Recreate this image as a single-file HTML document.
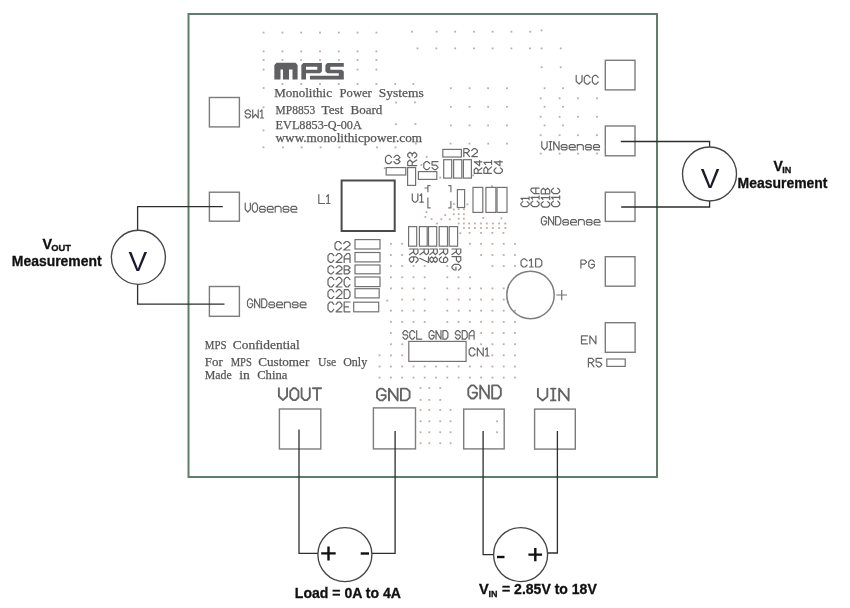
<!DOCTYPE html>
<html><head><meta charset="utf-8"><title>MP8853 EVB</title>
<style>html,body{margin:0;padding:0;background:#fff;width:850px;height:608px;overflow:hidden}svg{display:block;will-change:transform}</style>
</head><body>
<svg width="850" height="608" viewBox="0 0 850 608">
<rect x="0" y="0" width="850" height="608" fill="#fff"/>
<g fill="#bfaba3"><rect x="262.7" y="31.7" width="1.8" height="1.8"/><rect x="281.5" y="31.7" width="1.8" height="1.8"/><rect x="300.3" y="31.7" width="1.8" height="1.8"/><rect x="319.1" y="31.7" width="1.8" height="1.8"/><rect x="337.9" y="31.7" width="1.8" height="1.8"/><rect x="356.7" y="31.7" width="1.8" height="1.8"/><rect x="375.5" y="31.7" width="1.8" height="1.8"/><rect x="411.0" y="30.8" width="1.8" height="1.8"/><rect x="435.8" y="30.8" width="1.8" height="1.8"/><rect x="454.3" y="30.8" width="1.8" height="1.8"/><rect x="473.1" y="30.8" width="1.8" height="1.8"/><rect x="491.7" y="30.8" width="1.8" height="1.8"/><rect x="510.5" y="30.8" width="1.8" height="1.8"/><rect x="529.3" y="30.8" width="1.8" height="1.8"/><rect x="540.7" y="29.5" width="1.8" height="1.8"/><rect x="262.7" y="50.5" width="1.8" height="1.8"/><rect x="281.5" y="50.5" width="1.8" height="1.8"/><rect x="300.3" y="50.5" width="1.8" height="1.8"/><rect x="319.1" y="50.5" width="1.8" height="1.8"/><rect x="337.9" y="50.5" width="1.8" height="1.8"/><rect x="356.7" y="50.5" width="1.8" height="1.8"/><rect x="375.5" y="50.5" width="1.8" height="1.8"/><rect x="416.6" y="47.5" width="1.8" height="1.8"/><rect x="435.4" y="47.5" width="1.8" height="1.8"/><rect x="454.3" y="47.5" width="1.8" height="1.8"/><rect x="473.1" y="47.5" width="1.8" height="1.8"/><rect x="491.7" y="47.5" width="1.8" height="1.8"/><rect x="510.5" y="47.5" width="1.8" height="1.8"/><rect x="529.0" y="47.5" width="1.8" height="1.8"/><rect x="540.7" y="47.5" width="1.8" height="1.8"/><rect x="559.8" y="47.5" width="1.8" height="1.8"/><rect x="262.7" y="59.1" width="1.8" height="1.8"/><rect x="281.5" y="59.1" width="1.8" height="1.8"/><rect x="300.3" y="59.1" width="1.8" height="1.8"/><rect x="319.1" y="59.1" width="1.8" height="1.8"/><rect x="337.9" y="59.1" width="1.8" height="1.8"/><rect x="356.7" y="59.1" width="1.8" height="1.8"/><rect x="375.5" y="59.1" width="1.8" height="1.8"/><rect x="262.7" y="68.7" width="1.8" height="1.8"/><rect x="356.7" y="68.7" width="1.8" height="1.8"/><rect x="375.5" y="68.7" width="1.8" height="1.8"/><rect x="281.5" y="83.1" width="1.8" height="1.8"/><rect x="300.3" y="83.1" width="1.8" height="1.8"/><rect x="319.1" y="83.1" width="1.8" height="1.8"/><rect x="337.9" y="83.1" width="1.8" height="1.8"/><rect x="356.7" y="83.1" width="1.8" height="1.8"/><rect x="375.5" y="83.1" width="1.8" height="1.8"/><rect x="394.3" y="83.1" width="1.8" height="1.8"/><rect x="412.5" y="83.1" width="1.8" height="1.8"/><rect x="262.7" y="87.1" width="1.8" height="1.8"/><rect x="262.6" y="106.4" width="1.8" height="1.8"/><rect x="262.6" y="129.5" width="1.8" height="1.8"/><rect x="262.6" y="146.5" width="1.8" height="1.8"/><rect x="282.1" y="146.5" width="1.8" height="1.8"/><rect x="300.8" y="146.5" width="1.8" height="1.8"/><rect x="319.7" y="146.5" width="1.8" height="1.8"/><rect x="338.5" y="146.5" width="1.8" height="1.8"/><rect x="376.1" y="146.5" width="1.8" height="1.8"/><rect x="394.6" y="146.5" width="1.8" height="1.8"/><rect x="414.9" y="142.7" width="1.8" height="1.8"/><rect x="449.7" y="142.7" width="1.8" height="1.8"/><rect x="468.5" y="142.7" width="1.8" height="1.8"/><rect x="487.3" y="142.7" width="1.8" height="1.8"/><rect x="506.1" y="142.7" width="1.8" height="1.8"/><rect x="395.3" y="101.7" width="1.8" height="1.8"/><rect x="395.0" y="123.3" width="1.8" height="1.8"/><rect x="414.1" y="101.5" width="1.8" height="1.8"/><rect x="414.5" y="123.1" width="1.8" height="1.8"/><rect x="449.9" y="87.3" width="1.8" height="1.8"/><rect x="468.7" y="87.3" width="1.8" height="1.8"/><rect x="487.2" y="87.3" width="1.8" height="1.8"/><rect x="506.0" y="87.3" width="1.8" height="1.8"/><rect x="543.7" y="87.3" width="1.8" height="1.8"/><rect x="562.1" y="87.3" width="1.8" height="1.8"/><rect x="449.9" y="105.9" width="1.8" height="1.8"/><rect x="468.7" y="105.9" width="1.8" height="1.8"/><rect x="487.2" y="105.9" width="1.8" height="1.8"/><rect x="506.0" y="105.9" width="1.8" height="1.8"/><rect x="543.7" y="105.9" width="1.8" height="1.8"/><rect x="562.1" y="105.9" width="1.8" height="1.8"/><rect x="449.9" y="124.5" width="1.8" height="1.8"/><rect x="468.7" y="124.5" width="1.8" height="1.8"/><rect x="487.2" y="124.5" width="1.8" height="1.8"/><rect x="506.0" y="124.5" width="1.8" height="1.8"/><rect x="543.7" y="124.5" width="1.8" height="1.8"/><rect x="562.1" y="124.5" width="1.8" height="1.8"/><rect x="540.7" y="66.3" width="1.8" height="1.8"/><rect x="559.8" y="66.3" width="1.8" height="1.8"/><rect x="539.8" y="97.4" width="1.8" height="1.8"/><rect x="558.7" y="97.4" width="1.8" height="1.8"/><rect x="577.1" y="97.4" width="1.8" height="1.8"/><rect x="596.0" y="97.4" width="1.8" height="1.8"/><rect x="539.8" y="115.9" width="1.8" height="1.8"/><rect x="558.7" y="115.9" width="1.8" height="1.8"/><rect x="577.1" y="115.9" width="1.8" height="1.8"/><rect x="596.0" y="115.9" width="1.8" height="1.8"/><rect x="539.8" y="134.3" width="1.8" height="1.8"/><rect x="558.7" y="134.3" width="1.8" height="1.8"/><rect x="577.1" y="134.3" width="1.8" height="1.8"/><rect x="596.0" y="134.3" width="1.8" height="1.8"/><rect x="539.8" y="152.7" width="1.8" height="1.8"/><rect x="558.7" y="152.7" width="1.8" height="1.8"/><rect x="577.1" y="152.7" width="1.8" height="1.8"/><rect x="596.0" y="152.7" width="1.8" height="1.8"/><rect x="383.8" y="167.3" width="1.8" height="1.8"/><rect x="425.8" y="156.1" width="1.8" height="1.8"/><rect x="420.5" y="164.1" width="1.8" height="1.8"/><rect x="439.3" y="176.7" width="1.8" height="1.8"/><rect x="472.3" y="174.5" width="1.8" height="1.8"/><rect x="491.1" y="185.2" width="1.8" height="1.8"/><rect x="452.9" y="203.2" width="1.8" height="1.8"/><rect x="466.5" y="203.4" width="1.8" height="1.8"/><rect x="452.9" y="208.6" width="1.8" height="1.8"/><rect x="457.8" y="208.3" width="1.8" height="1.8"/><rect x="463.0" y="208.3" width="1.8" height="1.8"/><rect x="425.7" y="211.2" width="1.8" height="1.8"/><rect x="452.9" y="213.3" width="1.8" height="1.8"/><rect x="457.8" y="213.3" width="1.8" height="1.8"/><rect x="463.0" y="213.3" width="1.8" height="1.8"/><rect x="444.3" y="214.2" width="1.8" height="1.8"/><rect x="424.5" y="216.1" width="1.8" height="1.8"/><rect x="430.7" y="218.0" width="1.8" height="1.8"/><rect x="440.4" y="218.3" width="1.8" height="1.8"/><rect x="448.8" y="218.4" width="1.8" height="1.8"/><rect x="457.8" y="217.8" width="1.8" height="1.8"/><rect x="463.0" y="217.8" width="1.8" height="1.8"/><rect x="482.4" y="217.1" width="1.8" height="1.8"/><rect x="500.5" y="217.4" width="1.8" height="1.8"/><rect x="436.1" y="222.6" width="1.8" height="1.8"/><rect x="459.4" y="232.3" width="1.8" height="1.8"/><rect x="457.8" y="222.6" width="1.8" height="1.8"/><rect x="463.0" y="222.6" width="1.8" height="1.8"/><rect x="468.2" y="222.6" width="1.8" height="1.8"/><rect x="474.0" y="222.6" width="1.8" height="1.8"/><rect x="480.1" y="222.6" width="1.8" height="1.8"/><rect x="485.9" y="222.6" width="1.8" height="1.8"/><rect x="492.0" y="222.6" width="1.8" height="1.8"/><rect x="498.2" y="222.6" width="1.8" height="1.8"/><rect x="504.4" y="222.6" width="1.8" height="1.8"/><rect x="463.0" y="227.1" width="1.8" height="1.8"/><rect x="468.2" y="227.1" width="1.8" height="1.8"/><rect x="474.0" y="227.1" width="1.8" height="1.8"/><rect x="480.1" y="227.1" width="1.8" height="1.8"/><rect x="485.9" y="227.1" width="1.8" height="1.8"/><rect x="492.0" y="227.1" width="1.8" height="1.8"/><rect x="498.2" y="227.1" width="1.8" height="1.8"/><rect x="504.4" y="227.1" width="1.8" height="1.8"/><rect x="468.7" y="232.0" width="1.8" height="1.8"/><rect x="480.1" y="232.0" width="1.8" height="1.8"/><rect x="491.4" y="232.0" width="1.8" height="1.8"/><rect x="502.5" y="232.0" width="1.8" height="1.8"/><rect x="390.0" y="242.9" width="1.8" height="1.8"/><rect x="401.3" y="242.9" width="1.8" height="1.8"/><rect x="469.0" y="242.9" width="1.8" height="1.8"/><rect x="480.2" y="242.9" width="1.8" height="1.8"/><rect x="491.5" y="242.9" width="1.8" height="1.8"/><rect x="502.8" y="242.9" width="1.8" height="1.8"/><rect x="514.1" y="242.9" width="1.8" height="1.8"/><rect x="390.0" y="254.1" width="1.8" height="1.8"/><rect x="401.3" y="254.1" width="1.8" height="1.8"/><rect x="480.2" y="254.1" width="1.8" height="1.8"/><rect x="491.5" y="254.1" width="1.8" height="1.8"/><rect x="502.8" y="254.1" width="1.8" height="1.8"/><rect x="514.1" y="254.1" width="1.8" height="1.8"/><rect x="390.0" y="265.2" width="1.8" height="1.8"/><rect x="401.3" y="265.2" width="1.8" height="1.8"/><rect x="412.6" y="265.2" width="1.8" height="1.8"/><rect x="423.8" y="265.2" width="1.8" height="1.8"/><rect x="446.4" y="265.2" width="1.8" height="1.8"/><rect x="491.5" y="265.2" width="1.8" height="1.8"/><rect x="502.8" y="265.2" width="1.8" height="1.8"/><rect x="514.1" y="265.2" width="1.8" height="1.8"/><rect x="390.0" y="276.4" width="1.8" height="1.8"/><rect x="401.3" y="276.4" width="1.8" height="1.8"/><rect x="412.6" y="276.4" width="1.8" height="1.8"/><rect x="423.8" y="276.4" width="1.8" height="1.8"/><rect x="446.4" y="276.4" width="1.8" height="1.8"/><rect x="457.7" y="276.4" width="1.8" height="1.8"/><rect x="469.0" y="276.4" width="1.8" height="1.8"/><rect x="390.0" y="287.5" width="1.8" height="1.8"/><rect x="401.3" y="287.5" width="1.8" height="1.8"/><rect x="412.6" y="287.5" width="1.8" height="1.8"/><rect x="423.8" y="287.5" width="1.8" height="1.8"/><rect x="446.4" y="287.5" width="1.8" height="1.8"/><rect x="457.7" y="287.5" width="1.8" height="1.8"/><rect x="469.0" y="287.5" width="1.8" height="1.8"/><rect x="480.2" y="287.5" width="1.8" height="1.8"/><rect x="491.5" y="287.5" width="1.8" height="1.8"/><rect x="502.8" y="287.5" width="1.8" height="1.8"/><rect x="401.3" y="298.7" width="1.8" height="1.8"/><rect x="412.6" y="298.7" width="1.8" height="1.8"/><rect x="423.8" y="298.7" width="1.8" height="1.8"/><rect x="446.4" y="298.7" width="1.8" height="1.8"/><rect x="457.7" y="298.7" width="1.8" height="1.8"/><rect x="469.0" y="298.7" width="1.8" height="1.8"/><rect x="480.2" y="298.7" width="1.8" height="1.8"/><rect x="491.5" y="298.7" width="1.8" height="1.8"/><rect x="502.8" y="298.7" width="1.8" height="1.8"/><rect x="390.0" y="309.8" width="1.8" height="1.8"/><rect x="401.3" y="309.8" width="1.8" height="1.8"/><rect x="412.6" y="309.8" width="1.8" height="1.8"/><rect x="423.8" y="309.8" width="1.8" height="1.8"/><rect x="446.4" y="309.8" width="1.8" height="1.8"/><rect x="457.7" y="309.8" width="1.8" height="1.8"/><rect x="469.0" y="309.8" width="1.8" height="1.8"/><rect x="480.2" y="309.8" width="1.8" height="1.8"/><rect x="491.5" y="309.8" width="1.8" height="1.8"/><rect x="502.8" y="309.8" width="1.8" height="1.8"/><rect x="514.1" y="309.8" width="1.8" height="1.8"/><rect x="390.0" y="321.0" width="1.8" height="1.8"/><rect x="401.3" y="321.0" width="1.8" height="1.8"/><rect x="412.6" y="321.0" width="1.8" height="1.8"/><rect x="423.8" y="321.0" width="1.8" height="1.8"/><rect x="446.4" y="321.0" width="1.8" height="1.8"/><rect x="457.7" y="321.0" width="1.8" height="1.8"/><rect x="469.0" y="321.0" width="1.8" height="1.8"/><rect x="480.2" y="321.0" width="1.8" height="1.8"/><rect x="491.5" y="321.0" width="1.8" height="1.8"/><rect x="502.8" y="321.0" width="1.8" height="1.8"/><rect x="514.1" y="321.0" width="1.8" height="1.8"/><rect x="390.0" y="332.1" width="1.8" height="1.8"/><rect x="480.2" y="332.1" width="1.8" height="1.8"/><rect x="491.5" y="332.1" width="1.8" height="1.8"/><rect x="502.8" y="332.1" width="1.8" height="1.8"/><rect x="514.1" y="332.1" width="1.8" height="1.8"/><rect x="390.0" y="343.3" width="1.8" height="1.8"/><rect x="401.3" y="343.3" width="1.8" height="1.8"/><rect x="480.2" y="343.3" width="1.8" height="1.8"/><rect x="491.5" y="343.3" width="1.8" height="1.8"/><rect x="502.8" y="343.3" width="1.8" height="1.8"/><rect x="514.1" y="343.3" width="1.8" height="1.8"/><rect x="378.7" y="354.4" width="1.8" height="1.8"/><rect x="390.0" y="354.4" width="1.8" height="1.8"/><rect x="401.3" y="354.4" width="1.8" height="1.8"/><rect x="491.5" y="354.4" width="1.8" height="1.8"/><rect x="502.8" y="354.4" width="1.8" height="1.8"/><rect x="514.1" y="354.4" width="1.8" height="1.8"/><rect x="378.7" y="365.6" width="1.8" height="1.8"/><rect x="390.0" y="365.6" width="1.8" height="1.8"/><rect x="401.3" y="365.6" width="1.8" height="1.8"/><rect x="412.6" y="365.6" width="1.8" height="1.8"/><rect x="423.8" y="365.6" width="1.8" height="1.8"/><rect x="435.1" y="365.6" width="1.8" height="1.8"/><rect x="446.4" y="365.6" width="1.8" height="1.8"/><rect x="457.7" y="365.6" width="1.8" height="1.8"/><rect x="469.0" y="365.6" width="1.8" height="1.8"/><rect x="480.2" y="365.6" width="1.8" height="1.8"/><rect x="491.5" y="365.6" width="1.8" height="1.8"/><rect x="502.8" y="365.6" width="1.8" height="1.8"/><rect x="514.1" y="365.6" width="1.8" height="1.8"/><rect x="378.7" y="376.7" width="1.8" height="1.8"/><rect x="390.0" y="376.7" width="1.8" height="1.8"/><rect x="401.3" y="376.7" width="1.8" height="1.8"/><rect x="412.6" y="376.7" width="1.8" height="1.8"/><rect x="423.8" y="376.7" width="1.8" height="1.8"/><rect x="435.1" y="376.7" width="1.8" height="1.8"/><rect x="446.4" y="376.7" width="1.8" height="1.8"/><rect x="457.7" y="376.7" width="1.8" height="1.8"/><rect x="469.0" y="376.7" width="1.8" height="1.8"/><rect x="480.2" y="376.7" width="1.8" height="1.8"/><rect x="491.5" y="376.7" width="1.8" height="1.8"/><rect x="502.8" y="376.7" width="1.8" height="1.8"/><rect x="514.1" y="376.7" width="1.8" height="1.8"/><rect x="386.3" y="299.6" width="1.8" height="1.8"/><rect x="419.6" y="387.1" width="1.8" height="1.8"/><rect x="428.4" y="387.1" width="1.8" height="1.8"/><rect x="439.3" y="387.1" width="1.8" height="1.8"/><rect x="419.6" y="399.0" width="1.8" height="1.8"/><rect x="428.4" y="399.0" width="1.8" height="1.8"/><rect x="439.3" y="399.0" width="1.8" height="1.8"/><rect x="419.6" y="409.1" width="1.8" height="1.8"/><rect x="428.4" y="409.1" width="1.8" height="1.8"/><rect x="439.3" y="409.1" width="1.8" height="1.8"/><rect x="449.7" y="409.1" width="1.8" height="1.8"/><rect x="419.6" y="420.4" width="1.8" height="1.8"/><rect x="428.4" y="420.4" width="1.8" height="1.8"/><rect x="439.3" y="420.4" width="1.8" height="1.8"/><rect x="449.7" y="420.4" width="1.8" height="1.8"/><rect x="419.6" y="431.3" width="1.8" height="1.8"/><rect x="428.4" y="431.3" width="1.8" height="1.8"/><rect x="439.3" y="431.3" width="1.8" height="1.8"/><rect x="449.7" y="431.3" width="1.8" height="1.8"/><rect x="419.6" y="442.3" width="1.8" height="1.8"/><rect x="428.4" y="442.3" width="1.8" height="1.8"/><rect x="439.3" y="442.3" width="1.8" height="1.8"/><rect x="449.7" y="442.3" width="1.8" height="1.8"/><rect x="496.2" y="420.4" width="1.8" height="1.8"/><rect x="496.2" y="431.3" width="1.8" height="1.8"/></g>
<rect x="188.5" y="14" width="468.5" height="463" fill="none" stroke="#5f7d6d" stroke-width="2"/>
<g fill="#5f5f64">
<path d="M274.35,65 L276.5,62.8 L295.5,62.8 L297.6,65 L297.6,79.5 L292.5,79.5 L292.5,69.6 L289,69.6 L289,79.5 L283,79.5 L283,69.6 L280.5,69.6 L280.5,79.5 L274.35,79.5 Z"/>
<path fill-rule="evenodd" d="M301.35,65 L303.3,63 L321.9,63 L321.9,71.5 L320,73.3 L306,73.3 L306,79.5 L301.35,79.5 Z M306,66.8 L317.3,66.8 L317.3,69.7 L306,69.7 Z"/>
<path d="M325.4,65 L327.4,63 L343.8,63 L343.8,66.8 L330.3,66.8 L330.3,69.7 L341.8,69.7 L343.8,71.5 L343.8,79.5 L310,79.5 L310,75.7 L338.8,75.7 L338.8,73.3 L327.4,73.3 L325.4,71.5 Z"/>
</g>
<text x="274.2" y="96.7" font-size="13.0" font-family="Liberation Serif" fill="#555" stroke="#555" stroke-width="0.25" textLength="57.8" lengthAdjust="spacingAndGlyphs">Monolithic</text>
<text x="339.6" y="96.7" font-size="13.0" font-family="Liberation Serif" fill="#555" stroke="#555" stroke-width="0.25" textLength="32.2" lengthAdjust="spacingAndGlyphs">Power</text>
<text x="378.7" y="96.7" font-size="13.0" font-family="Liberation Serif" fill="#555" stroke="#555" stroke-width="0.25" textLength="45.0" lengthAdjust="spacingAndGlyphs">Systems</text>
<text x="275.6" y="114.1" font-size="13.0" font-family="Liberation Serif" fill="#555" stroke="#555" stroke-width="0.25" textLength="39.6" lengthAdjust="spacingAndGlyphs">MP8853</text>
<text x="321.5" y="114.1" font-size="13.0" font-family="Liberation Serif" fill="#555" stroke="#555" stroke-width="0.25" textLength="21.9" lengthAdjust="spacingAndGlyphs">Test</text>
<text x="350.5" y="114.1" font-size="13.0" font-family="Liberation Serif" fill="#555" stroke="#555" stroke-width="0.25" textLength="31.8" lengthAdjust="spacingAndGlyphs">Board</text>
<text x="275.6" y="129.0" font-size="13.0" font-family="Liberation Serif" fill="#555" stroke="#555" stroke-width="0.25" textLength="86.2" lengthAdjust="spacingAndGlyphs">EVL8853-Q-00A</text>
<text x="275.6" y="141.5" font-size="13.0" font-family="Liberation Serif" fill="#555" stroke="#555" stroke-width="0.25" textLength="146.4" lengthAdjust="spacingAndGlyphs">www.monolithicpower.com</text>
<text x="204.8" y="348.6" font-size="13.0" font-family="Liberation Serif" fill="#555" stroke="#555" stroke-width="0.25" textLength="21.7" lengthAdjust="spacingAndGlyphs">MPS</text>
<text x="232.8" y="348.6" font-size="13.0" font-family="Liberation Serif" fill="#555" stroke="#555" stroke-width="0.25" textLength="67.0" lengthAdjust="spacingAndGlyphs">Confidential</text>
<text x="204.8" y="365.7" font-size="13.0" font-family="Liberation Serif" fill="#555" stroke="#555" stroke-width="0.25" textLength="18.0" lengthAdjust="spacingAndGlyphs">For</text>
<text x="230.7" y="365.7" font-size="13.0" font-family="Liberation Serif" fill="#555" stroke="#555" stroke-width="0.25" textLength="21.2" lengthAdjust="spacingAndGlyphs">MPS</text>
<text x="258.2" y="365.7" font-size="13.0" font-family="Liberation Serif" fill="#555" stroke="#555" stroke-width="0.25" textLength="51.1" lengthAdjust="spacingAndGlyphs">Customer</text>
<text x="318.0" y="365.7" font-size="13.0" font-family="Liberation Serif" fill="#555" stroke="#555" stroke-width="0.25" textLength="18.1" lengthAdjust="spacingAndGlyphs">Use</text>
<text x="343.2" y="365.7" font-size="13.0" font-family="Liberation Serif" fill="#555" stroke="#555" stroke-width="0.25" textLength="24.0" lengthAdjust="spacingAndGlyphs">Only</text>
<text x="204.8" y="379.0" font-size="13.0" font-family="Liberation Serif" fill="#555" stroke="#555" stroke-width="0.25" textLength="27.0" lengthAdjust="spacingAndGlyphs">Made</text>
<text x="239.2" y="379.0" font-size="13.0" font-family="Liberation Serif" fill="#555" stroke="#555" stroke-width="0.25" textLength="10.6" lengthAdjust="spacingAndGlyphs">in</text>
<text x="257.2" y="379.0" font-size="13.0" font-family="Liberation Serif" fill="#555" stroke="#555" stroke-width="0.25" textLength="30.2" lengthAdjust="spacingAndGlyphs">China</text>
<g fill="none" stroke="#7c7c7c" stroke-width="1.4">
<rect x="209.4" y="97.5" width="30.0" height="29.4"/>
<rect x="209.4" y="192.2" width="30.0" height="29.0"/>
<rect x="209.4" y="286.5" width="30.0" height="29.8"/>
<rect x="605.3" y="60.3" width="29.7" height="29.6"/>
<rect x="605.3" y="126.0" width="29.7" height="29.8"/>
<rect x="605.3" y="192.2" width="29.7" height="29.2"/>
<rect x="605.3" y="256.7" width="29.7" height="29.5"/>
<rect x="605.3" y="322.7" width="29.8" height="29.6"/>
<rect x="279.4" y="409.0" width="41.4" height="40.0"/>
<rect x="373.4" y="407.9" width="42.1" height="41.0"/>
<rect x="463.7" y="409.1" width="40.5" height="39.8"/>
<rect x="534.6" y="409.1" width="40.7" height="40.0"/>
</g>
<g fill="none" stroke="#727272" stroke-width="1.2">
<rect x="341.6" y="180.5" width="53.1" height="50.5" stroke="#4a4a4a" stroke-width="2"/>
<rect x="386.2" y="167.6" width="19.6" height="7.4"/>
<rect x="407.6" y="167.6" width="8" height="17.8"/>
<rect x="418.4" y="171.6" width="18.4" height="7.8"/>
<rect x="442.8" y="149.4" width="18.6" height="7.6"/>
<rect x="443.7" y="159.7" width="8" height="18.4"/>
<rect x="453.6" y="159.7" width="8.2" height="18.4"/>
<rect x="463.4" y="159.7" width="8" height="18.4"/>
<rect x="457.4" y="189.6" width="7.2" height="17.9"/>
<rect x="473" y="187.4" width="9.8" height="25"/>
<rect x="485.9" y="187.4" width="10" height="25"/>
<rect x="497" y="187.4" width="10" height="25"/>
<path d="M430.6,185.7 H427.9 V192.2 M427.9,197.6 V207.9 H430.6 M424.5,188 H427.9 M448.2,185.7 H450.9 V192.2 M450.9,201 V207.9 H448.2"/>
<rect x="355" y="239.6" width="25" height="9.4"/>
<rect x="355" y="252.5" width="25" height="9.4"/>
<rect x="355" y="265" width="25" height="8.8"/>
<rect x="355" y="277" width="25" height="9.6"/>
<rect x="355" y="288.7" width="24.2" height="9.2"/>
<rect x="353.7" y="302.2" width="25" height="9.6"/>
<rect x="408.6" y="226.6" width="8.1" height="19.6"/>
<rect x="419.4" y="226.6" width="7.8" height="19.6"/>
<rect x="428.5" y="226.6" width="8.2" height="19.6"/>
<rect x="439.2" y="226.6" width="8.3" height="19.6"/>
<rect x="449.2" y="226.6" width="8.4" height="19.6"/>
<circle cx="530.5" cy="295" r="23.7" stroke="#7e7e7e" stroke-width="1.5"/>
<path d="M556.3,295 H567 M561.7,289.9 V300.2"/>
<rect x="408.8" y="341.4" width="57.3" height="20"/>
<rect x="606.8" y="359" width="18.4" height="7.4"/>
</g>
<g fill="none" stroke="#646464" stroke-linecap="round" stroke-linejoin="round">
<path stroke-width="1.20" d="M250.59,111.77L248.71,109.80L246.98,109.80L245.10,111.77L245.10,112.72L246.23,113.90L249.46,113.90L250.59,115.08L250.59,116.03L248.71,118.00L246.98,118.00L245.10,116.03M252.70,109.80L252.70,118.00L255.45,114.31L258.19,118.00L258.19,109.80M260.31,111.44L261.95,109.80L261.95,118.00M260.31,118.00L263.60,118.00"/>
<path stroke-width="1.20" d="M576.20,75.30L576.20,81.28L579.12,84.10L582.03,81.28L582.03,75.30M590.12,77.41L588.12,75.30L586.28,75.30L584.28,77.41L584.28,81.99L586.28,84.10L588.12,84.10L590.12,81.99M598.20,77.41L596.20,75.30L594.37,75.30L592.37,77.41L592.37,81.99L594.37,84.10L596.20,84.10L598.20,81.99"/>
<path stroke-width="1.20" d="M541.80,141.60L541.80,147.24L544.45,149.90L547.09,147.24L547.09,141.60M550.42,141.60L550.42,149.90M549.14,141.60L551.71,141.60M549.14,149.90L551.71,149.90M553.75,149.90L553.75,141.60L559.04,149.90L559.04,141.60M567.13,146.00L565.92,144.67L562.29,144.67L561.08,146.00L561.08,146.62L561.69,147.29L566.53,147.29L567.13,147.95L567.13,148.57L565.92,149.90L562.29,149.90L561.08,148.57M569.18,147.29L575.23,147.29L575.23,146.00L574.02,144.67L570.39,144.67L569.18,146.00L569.18,148.57L570.39,149.90L575.23,149.90M577.27,144.67L577.27,149.90M577.27,146.00L578.48,144.67L582.11,144.67L583.32,146.00L583.32,149.90M591.41,146.00L590.20,144.67L586.57,144.67L585.36,146.00L585.36,146.62L585.96,147.29L590.80,147.29L591.41,147.95L591.41,148.57L590.20,149.90L586.57,149.90L585.36,148.57M593.45,147.29L599.50,147.29L599.50,146.00L598.29,144.67L594.66,144.67L593.45,146.00L593.45,148.57L594.66,149.90L599.50,149.90"/>
<path stroke-width="1.20" d="M546.53,218.62L544.77,216.60L543.16,216.60L541.40,218.62L541.40,222.98L543.16,225.00L544.77,225.00L546.53,222.98L546.53,221.22L543.97,221.22M548.51,225.00L548.51,216.60L553.65,225.00L553.65,216.60M555.63,216.60L559.00,216.60L560.76,218.62L560.76,222.98L559.00,225.00L555.63,225.00L555.63,216.60M568.61,221.05L567.44,219.71L563.92,219.71L562.74,221.05L562.74,221.68L563.33,222.35L568.02,222.35L568.61,223.03L568.61,223.66L567.44,225.00L563.92,225.00L562.74,223.66M570.59,222.35L576.46,222.35L576.46,221.05L575.28,219.71L571.76,219.71L570.59,221.05L570.59,223.66L571.76,225.00L576.46,225.00M578.44,219.71L578.44,225.00M578.44,221.05L579.61,219.71L583.13,219.71L584.30,221.05L584.30,225.00M592.15,221.05L590.98,219.71L587.46,219.71L586.29,221.05L586.29,221.68L586.87,222.35L591.57,222.35L592.15,223.03L592.15,223.66L590.98,225.00L587.46,225.00L586.29,223.66M594.13,222.35L600.00,222.35L600.00,221.05L598.83,219.71L595.31,219.71L594.13,221.05L594.13,223.66L595.31,225.00L600.00,225.00"/>
<path stroke-width="1.20" d="M245.20,203.00L245.20,209.26L247.77,212.20L250.35,209.26L250.35,203.00M254.09,203.00L255.71,203.00L257.48,205.21L257.48,209.99L255.71,212.20L254.09,212.20L252.33,209.99L252.33,205.21L254.09,203.00M265.34,207.88L264.16,206.40L260.64,206.40L259.46,207.88L259.46,208.57L260.05,209.30L264.75,209.30L265.34,210.04L265.34,210.73L264.16,212.20L260.64,212.20L259.46,210.73M267.32,209.30L273.21,209.30L273.21,207.88L272.03,206.40L268.50,206.40L267.32,207.88L267.32,210.73L268.50,212.20L273.21,212.20M275.19,206.40L275.19,212.20M275.19,207.88L276.37,206.40L279.89,206.40L281.07,207.88L281.07,212.20M288.94,207.88L287.76,206.40L284.23,206.40L283.05,207.88L283.05,208.57L283.64,209.30L288.35,209.30L288.94,210.04L288.94,210.73L287.76,212.20L284.23,212.20L283.05,210.73M290.92,209.30L296.80,209.30L296.80,207.88L295.62,206.40L292.10,206.40L290.92,207.88L290.92,210.73L292.10,212.20L296.80,212.20"/>
<path stroke-width="1.20" d="M252.63,301.01L250.87,298.90L249.26,298.90L247.50,301.01L247.50,305.59L249.26,307.70L250.87,307.70L252.63,305.59L252.63,303.74L250.06,303.74M254.60,307.70L254.60,298.90L259.73,307.70L259.73,298.90M261.70,298.90L265.07,298.90L266.83,301.01L266.83,305.59L265.07,307.70L261.70,307.70L261.70,298.90M274.66,303.56L273.49,302.16L269.98,302.16L268.81,303.56L268.81,304.22L269.39,304.93L274.08,304.93L274.66,305.63L274.66,306.29L273.49,307.70L269.98,307.70L268.81,306.29M276.64,304.93L282.50,304.93L282.50,303.56L281.33,302.16L277.81,302.16L276.64,303.56L276.64,306.29L277.81,307.70L282.50,307.70M284.47,302.16L284.47,307.70M284.47,303.56L285.65,302.16L289.16,302.16L290.33,303.56L290.33,307.70M298.17,303.56L296.99,302.16L293.48,302.16L292.31,303.56L292.31,304.22L292.89,304.93L297.58,304.93L298.17,305.63L298.17,306.29L296.99,307.70L293.48,307.70L292.31,306.29M300.14,304.93L306.00,304.93L306.00,303.56L304.83,302.16L301.31,302.16L300.14,303.56L300.14,306.29L301.31,307.70L306.00,307.70"/>
<path stroke-width="1.20" d="M580.90,268.10L580.90,260.00L584.62,260.00L586.56,261.94L586.56,262.11L584.62,264.05L580.90,264.05M594.40,261.94L592.46,260.00L590.68,260.00L588.74,261.94L588.74,266.16L590.68,268.10L592.46,268.10L594.40,266.16L594.40,264.46L591.57,264.46"/>
<path stroke-width="1.20" d="M587.54,335.90L581.50,335.90L581.50,343.80L587.54,343.80M581.50,339.85L586.03,339.85M589.86,343.80L589.86,335.90L595.90,343.80L595.90,335.90"/>
<path stroke-width="1.20" d="M588.40,366.90L588.40,358.40L592.06,358.40L593.97,360.44L593.97,360.61L592.06,362.65L588.40,362.65M590.91,362.65L593.97,366.90M601.70,358.40L596.13,358.40L596.13,362.22L599.79,362.22L601.70,364.26L601.70,364.86L599.79,366.90L598.04,366.90L596.13,364.86"/>
<path stroke-width="1.90" d="M278.90,388.30L278.90,396.32L282.99,400.10L287.08,396.32L287.08,388.30M293.04,388.30L295.62,388.30L298.42,391.13L298.42,397.27L295.62,400.10L293.04,400.10L290.24,397.27L290.24,391.13L293.04,388.30M301.58,388.30L301.58,397.27L304.38,400.10L306.96,400.10L309.76,397.27L309.76,388.30M312.92,388.30L321.10,388.30M317.01,388.30L317.01,400.10"/>
<path stroke-width="1.90" d="M385.64,391.43L382.68,388.60L379.96,388.60L377.00,391.43L377.00,397.57L379.96,400.40L382.68,400.40L385.64,397.57L385.64,395.09L381.32,395.09M388.98,400.40L388.98,388.60L397.62,400.40L397.62,388.60M400.96,388.60L406.64,388.60L409.60,391.43L409.60,397.57L406.64,400.40L400.96,400.40L400.96,388.60"/>
<path stroke-width="1.90" d="M476.92,388.54L473.96,385.40L471.25,385.40L468.30,388.54L468.30,395.36L471.25,398.50L473.96,398.50L476.92,395.36L476.92,392.61L472.61,392.61M480.24,398.50L480.24,385.40L488.86,398.50L488.86,385.40M492.18,385.40L497.85,385.40L500.80,388.54L500.80,395.36L497.85,398.50L492.18,398.50L492.18,385.40"/>
<path stroke-width="1.90" d="M537.90,388.60L537.90,396.62L542.61,400.40L547.33,396.62L547.33,388.60M553.25,388.60L553.25,400.40M550.96,388.60L555.54,388.60M550.96,400.40L555.54,400.40M559.17,400.40L559.17,388.60L568.60,400.40L568.60,388.60"/>
<path stroke-width="1.20" d="M318.80,194.60L318.80,203.50L324.44,203.50M326.62,196.38L328.31,194.60L328.31,203.50M326.62,203.50L330.00,203.50"/>
<path stroke-width="1.20" d="M391.58,157.39L389.49,155.40L387.58,155.40L385.50,157.39L385.50,161.71L387.58,163.70L389.49,163.70L391.58,161.71M393.92,157.39L396.01,155.40L397.92,155.40L400.00,157.39L400.00,157.56L397.92,159.55L396.05,159.55M397.92,159.55L400.00,161.54L400.00,161.71L397.92,163.70L396.01,163.70L393.92,161.71"/>
<path stroke-width="1.20" d="M429.75,163.52L427.71,161.60L425.84,161.60L423.80,163.52L423.80,167.68L425.84,169.60L427.71,169.60L429.75,167.68M438.00,161.60L432.05,161.60L432.05,165.20L435.96,165.20L438.00,167.12L438.00,167.68L435.96,169.60L434.09,169.60L432.05,167.68"/>
<path stroke-width="1.20" d="M463.80,156.60L463.80,148.60L467.55,148.60L469.50,150.52L469.50,150.68L467.55,152.60L463.80,152.60M466.37,152.60L469.50,156.60M471.70,150.52L473.65,148.60L475.45,148.60L477.40,150.52L477.40,151.96L471.70,156.60L477.40,156.60"/>
<path stroke-width="1.20" d="M412.30,193.80L412.30,200.18L414.20,202.20L415.94,202.20L417.84,200.18L417.84,193.80M419.98,195.48L421.64,193.80L421.64,202.20M419.98,202.20L423.30,202.20"/>
<path stroke-width="1.20" d="M341.29,243.54L339.13,241.50L337.16,241.50L335.00,243.54L335.00,247.96L337.16,250.00L339.13,250.00L341.29,247.96M343.71,243.54L345.87,241.50L347.84,241.50L350.00,243.54L350.00,245.07L343.71,250.00L350.00,250.00"/>
<path stroke-width="1.20" d="M333.83,255.64L331.83,253.50L330.00,253.50L328.00,255.64L328.00,260.26L330.00,262.40L331.83,262.40L333.83,260.26M336.08,255.64L338.08,253.50L339.92,253.50L341.92,255.64L341.92,257.24L336.08,262.40L341.92,262.40M344.17,262.40L344.17,256.70L347.17,253.50L349.00,253.50L350.00,254.57L350.00,262.40M344.17,258.84L350.00,258.84"/>
<path stroke-width="1.20" d="M333.83,267.80L331.83,265.90L330.00,265.90L328.00,267.80L328.00,271.90L330.00,273.80L331.83,273.80L333.83,271.90M336.08,267.80L338.08,265.90L339.92,265.90L341.92,267.80L341.92,269.22L336.08,273.80L341.92,273.80M344.17,269.85L348.00,269.85L350.00,271.75L350.00,271.90L348.00,273.80L344.17,273.80L344.17,265.90L348.00,265.90L350.00,267.80L350.00,267.95L348.00,269.85"/>
<path stroke-width="1.20" d="M333.83,279.63L331.83,277.30L330.00,277.30L328.00,279.63L328.00,284.67L330.00,287.00L331.83,287.00L333.83,284.67M336.08,279.63L338.08,277.30L339.92,277.30L341.92,279.63L341.92,281.37L336.08,287.00L341.92,287.00M350.00,279.63L348.00,277.30L346.17,277.30L344.17,279.63L344.17,284.67L346.17,287.00L348.00,287.00L350.00,284.67"/>
<path stroke-width="1.20" d="M333.83,291.81L331.83,289.70L330.00,289.70L328.00,291.81L328.00,296.39L330.00,298.50L331.83,298.50L333.83,296.39M336.08,291.81L338.08,289.70L339.92,289.70L341.92,291.81L341.92,293.40L336.08,298.50L341.92,298.50M344.17,289.70L348.00,289.70L350.00,291.81L350.00,296.39L348.00,298.50L344.17,298.50L344.17,289.70"/>
<path stroke-width="1.20" d="M333.83,304.35L331.83,302.00L330.00,302.00L328.00,304.35L328.00,309.45L330.00,311.80L331.83,311.80L333.83,309.45M336.08,304.35L338.08,302.00L339.92,302.00L341.92,304.35L341.92,306.12L336.08,311.80L341.92,311.80M350.00,302.00L344.17,302.00L344.17,311.80L350.00,311.80M344.17,306.90L348.54,306.90"/>
<path stroke-width="1.20" d="M527.17,260.84L525.05,258.90L523.12,258.90L521.00,260.84L521.00,265.06L523.12,267.00L525.05,267.00L527.17,265.06M529.55,260.52L531.40,258.90L531.40,267.00M529.55,267.00L533.25,267.00M535.63,258.90L539.68,258.90L541.80,260.84L541.80,265.06L539.68,267.00L535.63,267.00L535.63,258.90"/>
<path stroke-width="1.20" d="M407.88,332.66L406.18,330.60L404.61,330.60L402.90,332.66L402.90,333.66L403.93,334.90L406.86,334.90L407.88,336.14L407.88,337.14L406.18,339.20L404.61,339.20L402.90,337.14M414.79,332.66L413.08,330.60L411.52,330.60L409.81,332.66L409.81,337.14L411.52,339.20L413.08,339.20L414.79,337.14M416.71,330.60L416.71,339.20L421.70,339.20M434.09,332.66L432.38,330.60L430.81,330.60L429.10,332.66L429.10,337.14L430.81,339.20L432.38,339.20L434.09,337.14L434.09,335.33L431.59,335.33M436.01,339.20L436.01,330.60L440.99,339.20L440.99,330.60M442.91,330.60L446.19,330.60L447.90,332.66L447.90,337.14L446.19,339.20L442.91,339.20L442.91,330.60M460.29,332.66L458.58,330.60L457.01,330.60L455.30,332.66L455.30,333.66L456.33,334.90L459.26,334.90L460.29,336.14L460.29,337.14L458.58,339.20L457.01,339.20L455.30,337.14M462.21,330.60L465.48,330.60L467.19,332.66L467.19,337.14L465.48,339.20L462.21,339.20L462.21,330.60M469.12,339.20L469.12,333.70L471.68,330.60L473.25,330.60L474.10,331.63L474.10,339.20M469.12,335.76L474.10,335.76"/>
<path stroke-width="1.20" d="M475.07,349.77L473.06,347.80L471.21,347.80L469.20,349.77L469.20,354.03L471.21,356.00L473.06,356.00L475.07,354.03M477.34,356.00L477.34,347.80L483.21,356.00L483.21,347.80M485.48,349.44L487.24,347.80L487.24,356.00M485.48,356.00L489.00,356.00"/>
<path stroke-width="1.20" transform="translate(407.70,165.60) rotate(-90)" d="M0.00,9.00L0.00,0.00L3.66,0.00L5.57,2.16L5.57,2.34L3.66,4.50L0.00,4.50M2.51,4.50L5.57,9.00M7.73,2.16L9.64,0.00L11.39,0.00L13.30,2.16L13.30,2.34L11.39,4.50L9.68,4.50M11.39,4.50L13.30,6.66L13.30,6.84L11.39,9.00L9.64,9.00L7.73,6.84"/>
<path stroke-width="1.20" transform="translate(474.20,173.30) rotate(-90)" d="M0.00,7.70L0.00,0.00L3.53,0.00L5.37,1.85L5.37,2.00L3.53,3.85L0.00,3.85M2.41,3.85L5.37,7.70M11.46,7.70L11.46,0.00L7.43,5.39L12.80,5.39"/>
<path stroke-width="1.20" transform="translate(483.90,173.30) rotate(-90)" d="M0.00,7.70L0.00,0.00L4.24,0.00L6.45,1.85L6.45,2.00L4.24,3.85L0.00,3.85M2.90,3.85L6.45,7.70M8.93,1.54L10.87,0.00L10.87,7.70M8.93,7.70L12.80,7.70"/>
<path stroke-width="1.20" transform="translate(494.20,173.30) rotate(-90)" d="M5.37,1.97L3.53,0.00L1.84,0.00L0.00,1.97L0.00,6.23L1.84,8.20L3.53,8.20L5.37,6.23M11.46,8.20L11.46,0.00L7.43,5.74L12.80,5.74"/>
<path stroke-width="1.20" transform="translate(520.90,206.60) rotate(-90)" d="M4.94,1.97L3.24,0.00L1.69,0.00L0.00,1.97L0.00,6.23L1.69,8.20L3.24,8.20L4.94,6.23M6.84,1.64L8.32,0.00L8.32,8.20M6.84,8.20L9.80,8.20"/>
<path stroke-width="1.20" transform="translate(530.90,206.60) rotate(-90)" d="M5.46,1.97L3.59,0.00L1.87,0.00L0.00,1.97L0.00,6.23L1.87,8.20L3.59,8.20L5.46,6.23M7.56,1.64L9.20,0.00L9.20,8.20M7.56,8.20L10.84,8.20M12.94,8.20L12.94,2.95L15.75,0.00L17.46,0.00L18.40,0.98L18.40,8.20M12.94,4.92L18.40,4.92"/>
<path stroke-width="1.20" transform="translate(541.20,207.20) rotate(-90)" d="M5.64,2.04L3.70,0.00L1.93,0.00L0.00,2.04L0.00,6.46L1.93,8.50L3.70,8.50L5.64,6.46M7.81,1.70L9.50,0.00L9.50,8.50M7.81,8.50L11.19,8.50M13.36,4.25L17.07,4.25L19.00,6.29L19.00,6.46L17.07,8.50L13.36,8.50L13.36,0.00L17.07,0.00L19.00,2.04L19.00,2.21L17.07,4.25"/>
<path stroke-width="1.20" transform="translate(551.50,206.60) rotate(-90)" d="M5.46,1.97L3.59,0.00L1.87,0.00L0.00,1.97L0.00,6.23L1.87,8.20L3.59,8.20L5.46,6.23M7.56,1.64L9.20,0.00L9.20,8.20M7.56,8.20L10.84,8.20M18.40,1.97L16.53,0.00L14.81,0.00L12.94,1.97L12.94,6.23L14.81,8.20L16.53,8.20L18.40,6.23"/>
<path stroke-width="1.20" transform="translate(418.00,249.00) rotate(90)" d="M0.00,8.60L0.00,0.00L3.72,0.00L5.66,2.06L5.66,2.24L3.72,4.30L0.00,4.30M2.55,4.30L5.66,8.60M13.50,2.06L11.56,0.00L9.78,0.00L7.84,2.06L7.84,6.54L9.78,8.60L11.56,8.60L13.50,6.54L13.50,6.36L11.56,4.30L7.84,4.30"/>
<path stroke-width="1.20" transform="translate(428.50,249.00) rotate(90)" d="M0.00,8.70L0.00,0.00L3.72,0.00L5.66,2.09L5.66,2.26L3.72,4.35L0.00,4.35M2.55,4.35L5.66,8.70M7.84,0.00L13.50,0.00L9.26,8.70"/>
<path stroke-width="1.20" transform="translate(437.30,249.00) rotate(90)" d="M0.00,7.50L0.00,0.00L3.72,0.00L5.66,1.80L5.66,1.95L3.72,3.75L0.00,3.75M2.55,3.75L5.66,7.50M9.78,0.00L11.56,0.00L13.50,1.80L13.50,1.95L11.56,3.75L9.78,3.75L7.84,1.95L7.84,1.80L9.78,0.00M9.78,3.75L7.84,5.55L7.84,5.70L9.78,7.50L11.56,7.50L13.50,5.70L13.50,5.55L11.56,3.75"/>
<path stroke-width="1.20" transform="translate(447.70,249.00) rotate(90)" d="M0.00,8.30L0.00,0.00L3.72,0.00L5.66,1.99L5.66,2.16L3.72,4.15L0.00,4.15M2.55,4.15L5.66,8.30M13.50,4.15L9.78,4.15L7.84,2.16L7.84,1.99L9.78,0.00L11.56,0.00L13.50,1.99L13.50,6.31L11.56,8.30L9.78,8.30L7.84,6.31"/>
<path stroke-width="1.20" transform="translate(460.80,249.00) rotate(90)" d="M0.00,8.80L0.00,0.00L3.66,0.00L5.57,2.11L5.57,2.29L3.66,4.40L0.00,4.40M2.51,4.40L5.57,8.80M7.72,8.80L7.72,0.00L11.38,0.00L13.28,2.11L13.28,2.29L11.38,4.40L7.72,4.40M21.00,2.11L19.09,0.00L17.34,0.00L15.43,2.11L15.43,6.69L17.34,8.80L19.09,8.80L21.00,6.69L21.00,4.84L18.22,4.84"/>
</g>
<g fill="none" stroke="#2e2e2e" stroke-width="1.3">
<path d="M222.8,206.7 H137.6 V230.3"/>
<path d="M224.5,304.1 H137.6 V284.4"/>
<path d="M620.8,141.5 H709.6 V147"/>
<path d="M621.2,207 H709.6 V201"/>
<path d="M299,429.6 V553.3 H318"/>
<path d="M395.1,431.1 V553.3 H372"/>
<path d="M483.1,431.1 V554.6 H494"/>
<path d="M557.4,431.1 V553 H547.4"/>
</g>
<g fill="none" stroke="#444" stroke-width="1.35">
<circle cx="138.4" cy="257.3" r="27"/>
<circle cx="709.5" cy="174" r="27"/>
<circle cx="344.9" cy="554.6" r="27"/>
<circle cx="520.6" cy="554.6" r="27"/>
</g>
<text x="128.6" y="270.8" font-family="Liberation Sans" font-size="28" fill="#1a1a2a">V</text>
<text x="700.8" y="187.6" font-family="Liberation Sans" font-size="28" fill="#1a1a2a">V</text>
<text x="42.4" y="248.6" font-size="14.4" font-family="Liberation Sans" font-weight="bold" fill="#111" stroke="#111" stroke-width="0.3">V</text>
<text x="51.3" y="250.5" font-size="9.4" font-family="Liberation Sans" font-weight="bold" fill="#111" stroke="#111" stroke-width="0.3">OUT</text>
<text x="11.8" y="266" font-size="14.4" font-family="Liberation Sans" font-weight="bold" fill="#111" stroke="#111" stroke-width="0.3" textLength="89.8" lengthAdjust="spacingAndGlyphs">Measurement</text>
<text x="773.6" y="171" font-size="14" font-family="Liberation Sans" font-weight="bold" fill="#111" stroke="#111" stroke-width="0.3">V</text>
<text x="782.2" y="173.3" font-size="9" font-family="Liberation Sans" font-weight="bold" fill="#111" stroke="#111" stroke-width="0.3">IN</text>
<text x="737.6" y="188.4" font-size="14.4" font-family="Liberation Sans" font-weight="bold" fill="#111" stroke="#111" stroke-width="0.3" textLength="89.9" lengthAdjust="spacingAndGlyphs">Measurement</text>
<text x="294.8" y="597.8" font-size="14.6" font-family="Liberation Sans" font-weight="bold" fill="#111" stroke="#111" stroke-width="0.3" textLength="106.2" lengthAdjust="spacingAndGlyphs">Load = 0A to 4A</text>
<text x="479" y="594.1" font-size="14.6" font-family="Liberation Sans" font-weight="bold" fill="#111" stroke="#111" stroke-width="0.3">V</text>
<text x="488.5" y="596.6" font-size="9" font-family="Liberation Sans" font-weight="bold" fill="#111" stroke="#111" stroke-width="0.3">IN</text>
<text x="502" y="594.1" font-size="14.6" font-family="Liberation Sans" font-weight="bold" fill="#111" stroke="#111" stroke-width="0.3" textLength="94.8" lengthAdjust="spacingAndGlyphs">= 2.85V to 18V</text>
<g stroke="#111" stroke-width="2.4" fill="none">
<path d="M321.2,553.4 H335.7 M328.5,546.4 V560.4"/>
<path d="M360.7,553.5 H369"/>
<path d="M497,557 H504.5"/>
<path d="M528.4,554.6 H542.1 M535.3,548 V561.2"/>
</g>
</svg>
</body></html>
